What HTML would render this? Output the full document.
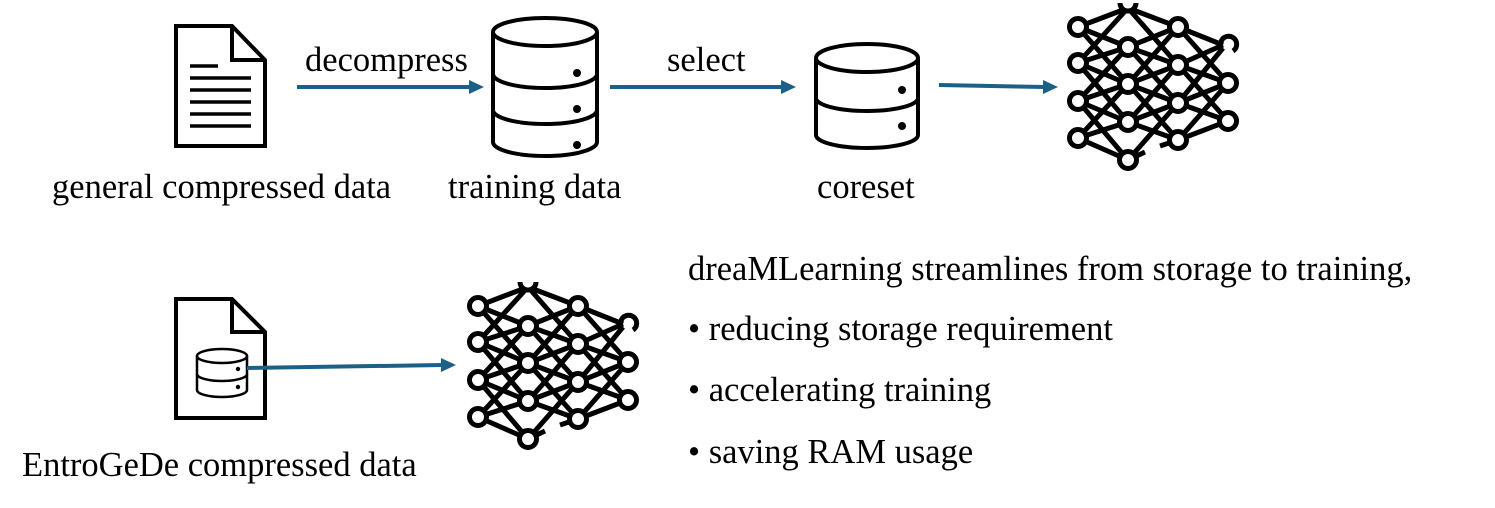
<!DOCTYPE html>
<html><head><style>
html,body{margin:0;padding:0;background:#fff;}
svg{display:block;}
text{font-family:"Liberation Serif",serif;font-size:34.5px;fill:#000;}
</style></head><body>
<svg width="1495" height="508" viewBox="0 0 1495 508" xmlns="http://www.w3.org/2000/svg">
<defs>
<g id="net" fill="none" stroke="#000" stroke-width="5">
<path d="M10,27L60,8 M10,27L60,47 M10,27L60,84 M10,63L60,8 M10,63L60,47 M10,63L60,84 M10,63L60,122 M10,101L60,47 M10,101L60,84 M10,101L60,122 M10,101L60,160 M10,138L60,84 M10,138L60,122 M10,138L60,160"/>
<path d="M60,8L110,27 M60,8L110,65 M60,47L110,27 M60,47L110,65 M60,47L110,103 M60,84L110,27 M60,84L110,65 M60,84L110,103 M60,84L110,140 M60,122L110,65 M60,122L110,103 M60,122L110,140 M60,160L110,103 M60,160L77,152 M92,146L110,140"/>
<path d="M110,27L155,45 M110,27L160,83 M110,65L155,45 M110,65L160,83 M110,65L160,121 M110,103L155,48 M110,103L160,83 M110,103L160,121 M110,140L160,83 M110,140L160,121"/>
<g fill="#fff">
<circle cx="10" cy="27" r="8.5"/><circle cx="10" cy="63" r="8.5"/><circle cx="10" cy="101" r="8.5"/><circle cx="10" cy="138" r="8.5"/>
<circle cx="60" cy="47" r="8.5"/><circle cx="60" cy="84" r="8.5"/><circle cx="60" cy="122" r="8.5"/><circle cx="60" cy="160" r="8.5"/>
<circle cx="110" cy="27" r="8.5"/><circle cx="110" cy="65" r="8.5"/><circle cx="110" cy="103" r="8.5"/><circle cx="110" cy="140" r="8.5"/>
<circle cx="160" cy="83" r="8.5"/><circle cx="160" cy="121" r="8.5"/>
</g>
<path d="M52,3 A8,8 0 0 0 68,3" fill="#fff"/>
<path d="M153,42 A8,8 0 1 1 165,51"/>
</g>
<g id="db3" fill="none" stroke="#000" stroke-width="4">
<path d="M0,14 L0,124 A52,14 0 0 0 104,124 L104,14"/>
<ellipse cx="52" cy="14" rx="52" ry="14"/>
<path d="M0,56 A52,14 0 0 0 104,56 M0,92 A52,14 0 0 0 104,92"/>
<g fill="#000" stroke="none"><circle cx="84" cy="55" r="4"/><circle cx="84" cy="91" r="4"/><circle cx="84" cy="127" r="4"/></g>
</g>
</defs>

<g fill="none" stroke="#000" stroke-width="4">
<path d="M176,26 L232,26 L265,60 L265,146 L176,146 Z"/>
<path d="M232,26 L232,60 L265,60"/>
<path d="M190,66 L218,66 M190,78 L251,78 M190,90 L251,90 M190,102 L251,102 M190,114 L251,114 M190,126 L251,126" stroke-width="3.5"/>
</g>
<text x="305" y="71">decompress</text>
<line x1="297" y1="87" x2="472" y2="87" stroke="#1c6087" stroke-width="4"/>
<polygon points="469,80 484,87 469,94" fill="#1c6087"/>

<use href="#db3" x="493" y="18"/>
<text x="667" y="71">select</text>
<line x1="610" y1="87" x2="784" y2="87" stroke="#1c6087" stroke-width="4"/>
<polygon points="781,80 796,87 781,94" fill="#1c6087"/>

<g fill="none" stroke="#000" stroke-width="4">
<path d="M816,58 L816,135 A51,13 0 0 0 918,135 L918,58"/>
<ellipse cx="867" cy="58" rx="51" ry="14"/>
<path d="M816,98 A51,13 0 0 0 918,98"/>
<g fill="#000" stroke="none"><circle cx="902" cy="90" r="4"/><circle cx="902" cy="126" r="4"/></g>
</g>
<line x1="939" y1="85" x2="1045" y2="87" stroke="#1c6087" stroke-width="4"/>
<polygon points="1043,80 1058,87 1043,94" fill="#1c6087"/>

<use href="#net" x="1068" y="0"/>

<text x="52" y="198">general compressed data</text>
<text x="448" y="198">training data</text>
<text x="817" y="198">coreset</text>

<g fill="none" stroke="#000" stroke-width="4">
<path d="M176,299 L232,299 L265,332 L265,418 L176,418 Z"/>
<path d="M232,299 L232,332 L265,332"/>
</g>
<g fill="none" stroke="#000" stroke-width="2.5">
<path d="M197,356 L197,390 A25,7 0 0 0 247,390 L247,356"/>
<ellipse cx="222" cy="356" rx="25" ry="7"/>
<path d="M197,374 A25,7 0 0 0 247,374"/>
<g fill="#000" stroke="none"><circle cx="238" cy="369" r="2.2"/><circle cx="238" cy="387" r="2.2"/></g>
</g>
<line x1="247" y1="368" x2="443" y2="365" stroke="#1c6087" stroke-width="4"/>
<polygon points="441,358 456,365 441,372" fill="#1c6087"/>

<use href="#net" x="468" y="279"/>

<text x="22" y="476">EntroGeDe compressed data</text>

<text x="688" y="280">dreaMLearning streamlines from storage to training,</text>
<text x="688" y="340">• reducing storage requirement</text>
<text x="688" y="401">• accelerating training</text>
<text x="688" y="463">• saving RAM usage</text>
</svg>
</body></html>
